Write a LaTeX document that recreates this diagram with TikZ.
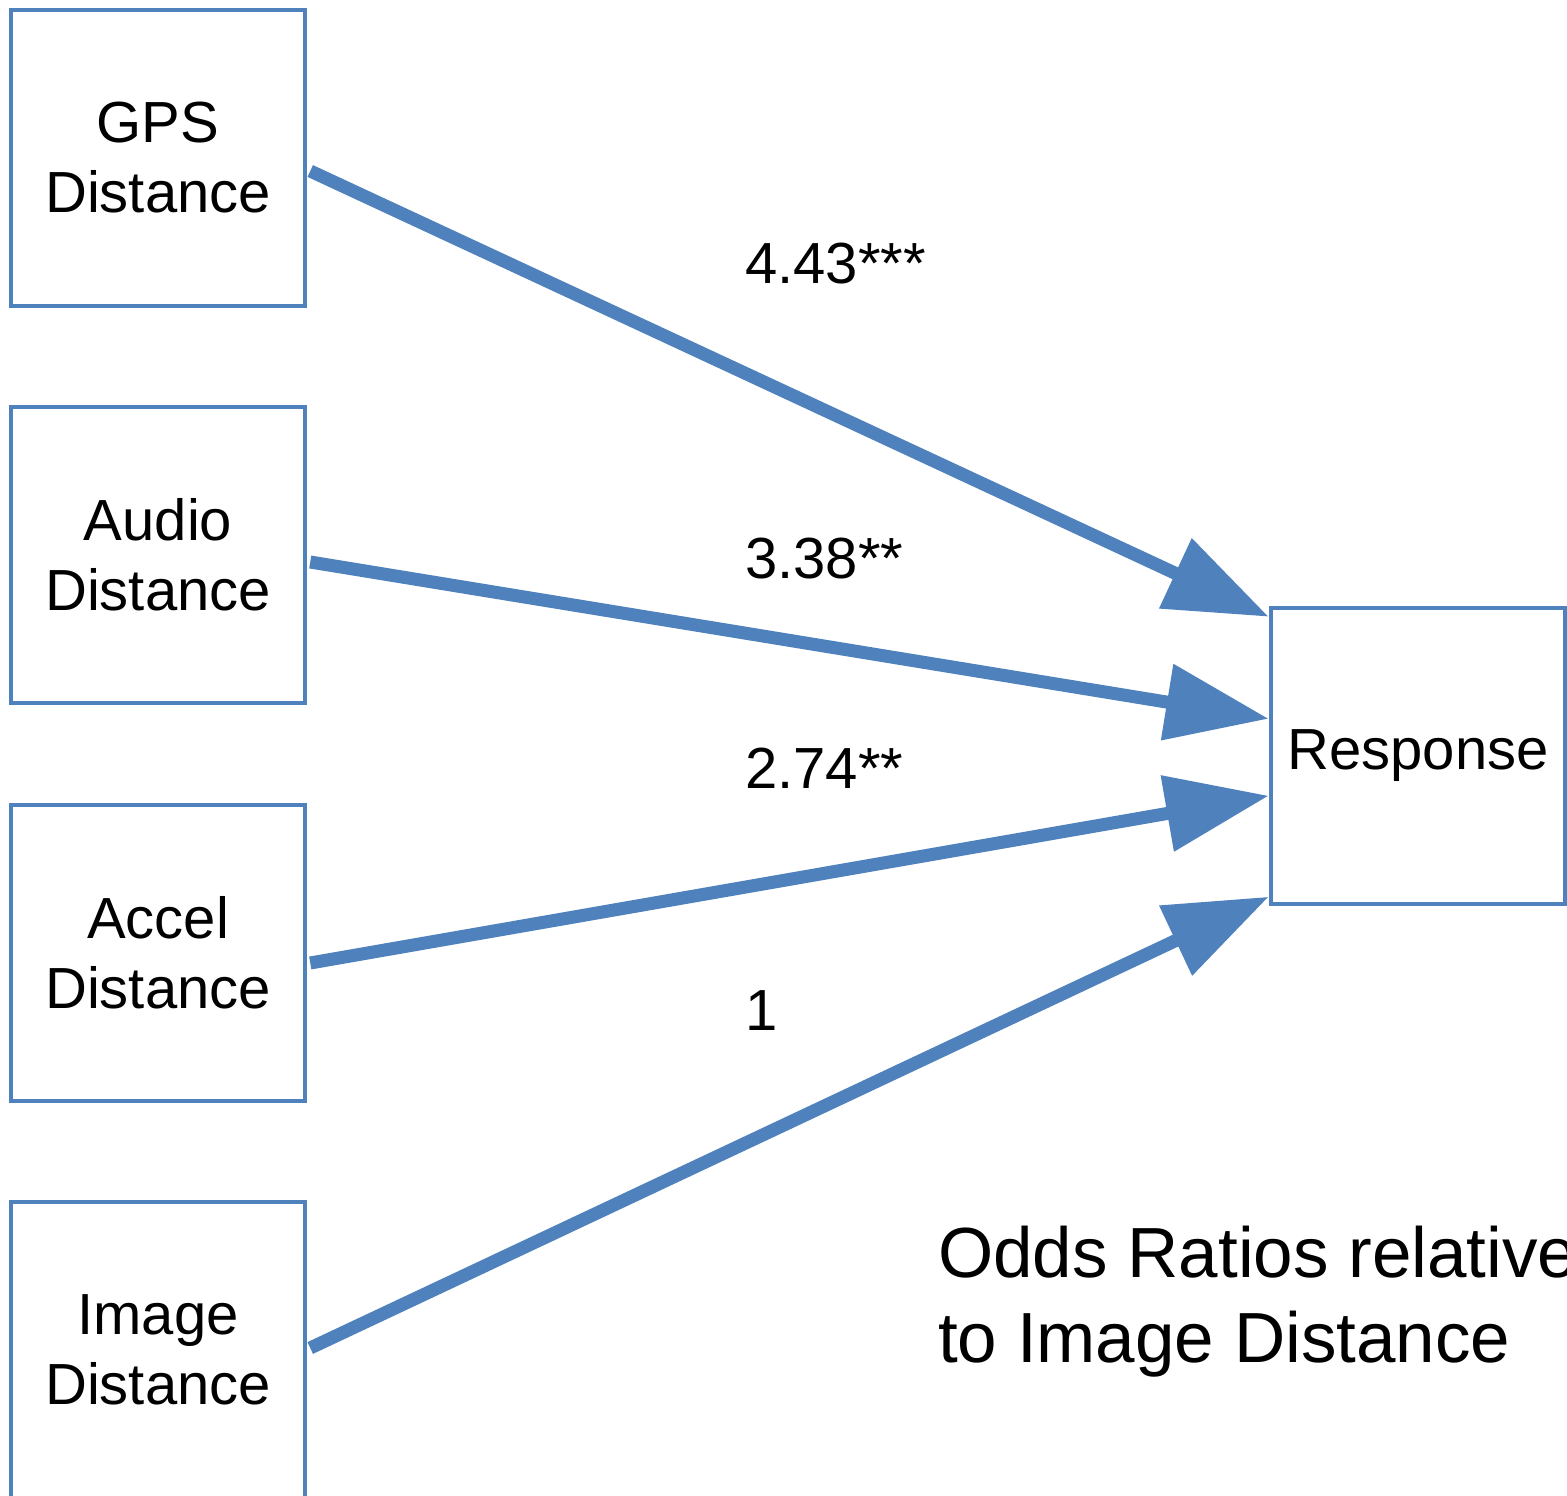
\documentclass[tikz,border=0pt]{standalone}
\usepackage{fontspec}
\setmainfont{Liberation Sans}
\usepackage{tikz}
\usepackage{xcolor}
\usetikzlibrary{calc}
\usetikzlibrary{arrows.meta}
\definecolor{linecolorc}{HTML}{4F81BD}
\colorlet{linecolor}{linecolorc}
\colorlet{textcolor}{black}
\tikzstyle{varbox} = [
    draw=linecolor,
    fill=white,
    line width=4.5pt,
    rectangle,
    inner sep=0pt,
    minimum width=294pt,
    minimum height=296pt,
    align=center,
    text=textcolor,
    font=\fontsize{58}{70}\selectfont
    ]
\tikzstyle{effect} = [
    draw=linecolor,
    line width=13pt,
    -{Triangle[length=103pt,width=74pt]}
    ]
\tikzstyle{oddsratio} = [
    anchor=base west,
    inner sep=0pt,
    text=textcolor,
    font=\fontsize{58}{70}\selectfont
    ]

\begin{document}
\begin{tikzpicture}[x=1pt,y=-1pt]
\useasboundingbox (0,0) rectangle (1567,1496);
% predictors
\node [varbox] (gps) at (158,158) {GPS\\Distance};
\node [varbox] (audio) at (158,555) {Audio\\Distance};
\node [varbox] (accel) at (158,953) {Accel\\Distance};
\node [varbox] (image) at (158,1350) {Image\\Distance};
% outcome
\node [varbox] (resp) at (1418,756) {Response};
% where the arrows meet the box
\coordinate (in1) at ($(resp.north west)+(0,11)$);
\coordinate (in2) at ($(resp.north west)+(0,113)$);
\coordinate (in3) at ($(resp.north west)+(0,190)$);
\coordinate (in4) at ($(resp.north west)+(0,291)$);
\draw [effect] ($(gps.east)+(3,13)$) -- (in1);
\draw [effect] ($(audio.east)+(3,7)$) -- (in2);
\draw [effect] ($(accel.east)+(3,10)$) -- (in3);
\draw [effect] ($(image.east)+(3,-2)$) -- (in4);
% odds ratios
\node [oddsratio] (or1) at (745,283) {4.43***};
\node [oddsratio] (or2) at (745,578) {3.38**};
\node [oddsratio] (or3) at (745,788) {2.74**};
\node [oddsratio] (or4) at (745,1030) {1};
\node [anchor=base west, inner sep=0pt, align=left, text=textcolor,
      font=\fontsize{71}{85}\selectfont] (note) at (938,1362)
      {Odds Ratios relative\\to Image Distance};
\end{tikzpicture}
\end{document}
